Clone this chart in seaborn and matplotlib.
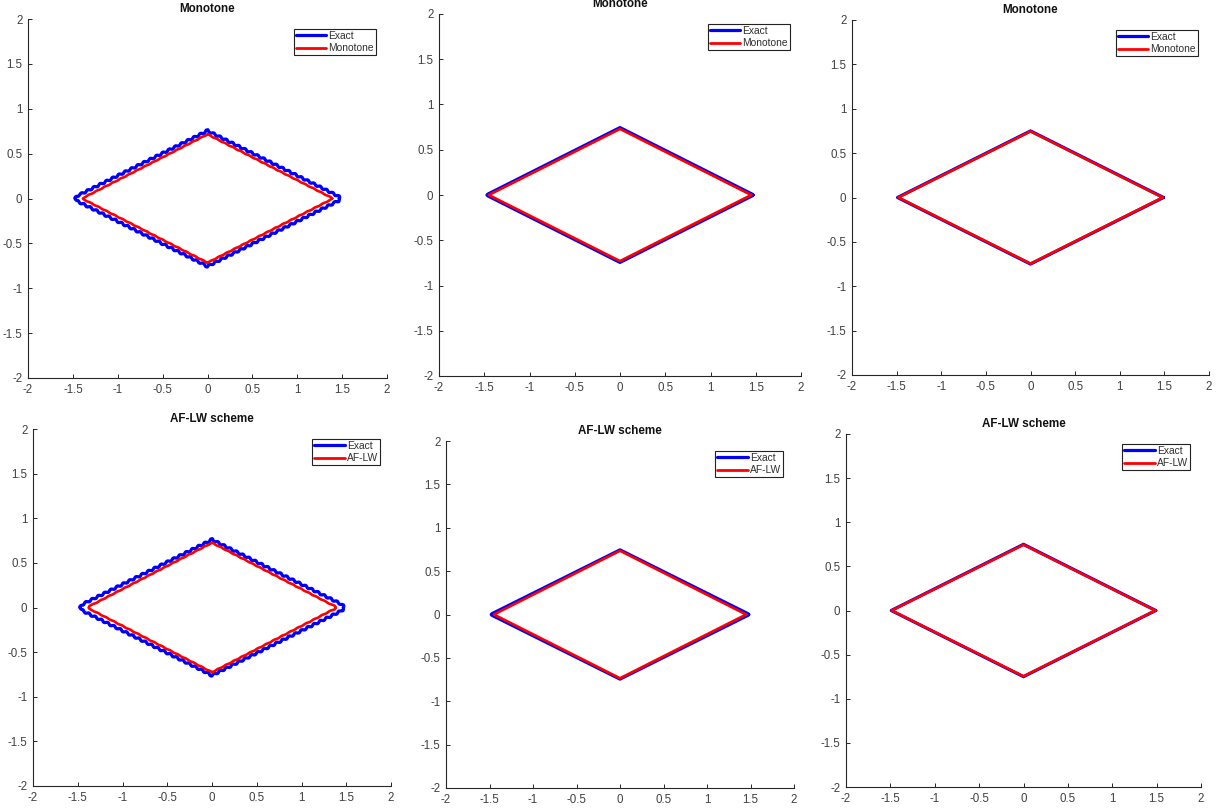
import matplotlib
matplotlib.use("Agg")
import matplotlib.pyplot as plt
import seaborn as sns
import pandas as pd
from matplotlib.lines import Line2D
from matplotlib.ticker import FormatStrFormatter, MultipleLocator

sns.set_style("ticks")
plt.rcParams["font.family"] = ["Liberation Sans", "DejaVu Sans"]

# ---------------- data ----------------
titles = ["Monotone", "Monotone", "Monotone", "AF-LW scheme", "AF-LW scheme", "AF-LW scheme"]
approx_labels = ["Monotone", "Monotone", "Monotone", "AF-LW", "AF-LW", "AF-LW"]

# top row, column 1
t1_exact_x = [1.47, 1.46, 1.43, 0.03, 0.0, -0.03, -1.43, -1.46, -1.47, -1.46, -1.43, -0.03, 0.0, 0.03, 1.43, 1.46, 1.47]
t1_exact_y = [0.0, 0.025, 0.04, 0.74, 0.76, 0.74, 0.04, 0.025, 0.0, -0.025, -0.04, -0.74, -0.76, -0.74, -0.04, -0.025, 0.0]
t1_appr_x = [1.39, 1.375, 1.35, 0.03, 0.0, -0.03, -1.35, -1.375, -1.39, -1.375, -1.35, -0.03, 0.0, 0.03, 1.35, 1.375, 1.39]
t1_appr_y = [0.0, 0.012, 0.025, 0.70, 0.715, 0.70, 0.025, 0.012, 0.0, -0.012, -0.025, -0.70, -0.715, -0.70, -0.025, -0.012, 0.0]
# top row, column 2
t2_exact_x = [1.47, 1.46, 0.02, 0.0, -0.02, -1.46, -1.47, -1.46, -0.02, 0.0, 0.02, 1.46, 1.47]
t2_exact_y = [0.0, 0.01, 0.735, 0.745, 0.735, 0.01, 0.0, -0.01, -0.735, -0.745, -0.735, -0.01, 0.0]
t2_appr_x = [1.45, 0.0, -1.45, 0.0, 1.45]
t2_appr_y = [0.0, 0.73, 0.0, -0.73, 0.0]
# top row, column 3
t3_exact_x = [1.49, 0.0, -1.49, 0.0, 1.49]
t3_exact_y = [0.0, 0.75, 0.0, -0.75, 0.0]
t3_appr_x = [1.48, 0.0, -1.48, 0.0, 1.48]
t3_appr_y = [0.0, 0.745, 0.0, -0.745, 0.0]
# bottom row, column 1
b1_exact_x = [1.47, 1.46, 1.43, 0.03, 0.0, -0.03, -1.43, -1.46, -1.47, -1.46, -1.43, -0.03, 0.0, 0.03, 1.43, 1.46, 1.47]
b1_exact_y = [0.0, 0.025, 0.045, 0.745, 0.765, 0.745, 0.045, 0.025, 0.0, -0.025, -0.045, -0.745, -0.765, -0.745, -0.045, -0.025, 0.0]
b1_appr_x = [1.38, 1.37, 1.33, 0.03, 0.0, -0.03, -1.33, -1.37, -1.38, -1.37, -1.33, -0.03, 0.0, 0.03, 1.33, 1.37, 1.38]
b1_appr_y = [0.0, 0.018, 0.035, 0.71, 0.725, 0.71, 0.035, 0.018, 0.0, -0.018, -0.035, -0.71, -0.725, -0.71, -0.035, -0.018, 0.0]
# bottom row, column 2
b2_exact_x = [1.48, 1.47, 0.02, 0.0, -0.02, -1.47, -1.48, -1.47, -0.02, 0.0, 0.02, 1.47, 1.48]
b2_exact_y = [0.0, 0.01, 0.735, 0.745, 0.735, 0.01, 0.0, -0.01, -0.735, -0.745, -0.735, -0.01, 0.0]
b2_appr_x = [1.45, 0.0, -1.45, 0.0, 1.45]
b2_appr_y = [0.0, 0.735, 0.0, -0.735, 0.0]
# bottom row, column 3
b3_exact_x = [1.49, 0.0, -1.49, 0.0, 1.49]
b3_exact_y = [0.0, 0.75, 0.0, -0.75, 0.0]
b3_appr_x = [1.485, 0.0, -1.485, 0.0, 1.485]
b3_appr_y = [0.0, 0.745, 0.0, -0.745, 0.0]

panels = [
    (t1_exact_x, t1_exact_y, t1_appr_x, t1_appr_y),
    (t2_exact_x, t2_exact_y, t2_appr_x, t2_appr_y),
    (t3_exact_x, t3_exact_y, t3_appr_x, t3_appr_y),
    (b1_exact_x, b1_exact_y, b1_appr_x, b1_appr_y),
    (b2_exact_x, b2_exact_y, b2_appr_x, b2_appr_y),
    (b3_exact_x, b3_exact_y, b3_appr_x, b3_appr_y),
]

# ---------------- layout (pixel boxes: left, top, right, bottom) ----------------
W, H = 1225, 809
boxes = [
    (28, 19, 387, 378),
    (439, 14, 801, 376),
    (852, 20, 1209, 375),
    (33, 429, 391, 786),
    (446, 441, 794, 788),
    (846, 434, 1201, 787),
]
wavy = [True, False, False, True, False, False]

fig = plt.figure(figsize=(W / 100, H / 100), dpi=100)
fig.patch.set_facecolor("white")

axis_col = "#262626"
BLUE = (0, 0, 1)
RED = (1, 0, 0)

for i, (ex, ey, ax_, ay_) in enumerate(panels):
    L, T, R, B = boxes[i]
    ax = fig.add_axes([L / W, 1 - B / H, (R - L) / W, (B - T) / H])
    df_e = pd.DataFrame({"x": ex, "y": ey})
    df_a = pd.DataFrame({"x": ax_, "y": ay_})
    sns.lineplot(data=df_e, x="x", y="y", sort=False, estimator=None,
                 color=BLUE, lw=2.3, ax=ax, legend=False)
    le = ax.lines[-1]
    sns.lineplot(data=df_a, x="x", y="y", sort=False, estimator=None,
                 color=RED, lw=1.9, ax=ax, legend=False)
    la = ax.lines[-1]
    if wavy[i]:
        le.set_sketch_params(scale=0.9, length=7, randomness=1.0)
        la.set_sketch_params(scale=0.25, length=9, randomness=1.0)
    le.set_solid_joinstyle("round")
    la.set_solid_joinstyle("round")

    ax.set_xlim(-2, 2)
    ax.set_ylim(-2, 2)
    ax.xaxis.set_major_locator(MultipleLocator(0.5))
    ax.yaxis.set_major_locator(MultipleLocator(0.5))
    ax.xaxis.set_major_formatter(FormatStrFormatter("%g"))
    ax.yaxis.set_major_formatter(FormatStrFormatter("%g"))
    ax.set_xlabel("")
    ax.set_ylabel("")
    for s in ["top", "right"]:
        ax.spines[s].set_visible(False)
    for s in ["left", "bottom"]:
        ax.spines[s].set_color(axis_col)
        ax.spines[s].set_linewidth(0.8)
    ax.tick_params(direction="in", length=3, width=0.7, colors=axis_col,
                   labelsize=8.3, labelcolor="#404040", pad=4)
    ax.set_title(titles[i], fontsize=8.4, fontweight="bold", pad=5, color="#111111")

    wpx, hpx = R - L, B - T
    handles = [Line2D([], [], color=BLUE, lw=2.3), Line2D([], [], color=RED, lw=2.0)]
    leg = ax.legend(handles, ["Exact", approx_labels[i]], loc="upper right",
                    bbox_to_anchor=(1 - 11 / wpx, 1 - 10 / hpx),
                    borderaxespad=0, fontsize=7.4, frameon=True, fancybox=False,
                    edgecolor="#222222", framealpha=1, handlelength=3.0,
                    handletextpad=0.2, borderpad=0.2, labelspacing=0.2)
    leg.get_frame().set_linewidth(0.8)
    for t in leg.get_texts():
        t.set_color("#303030")

fig.savefig("out.png", dpi=100, facecolor="white")
